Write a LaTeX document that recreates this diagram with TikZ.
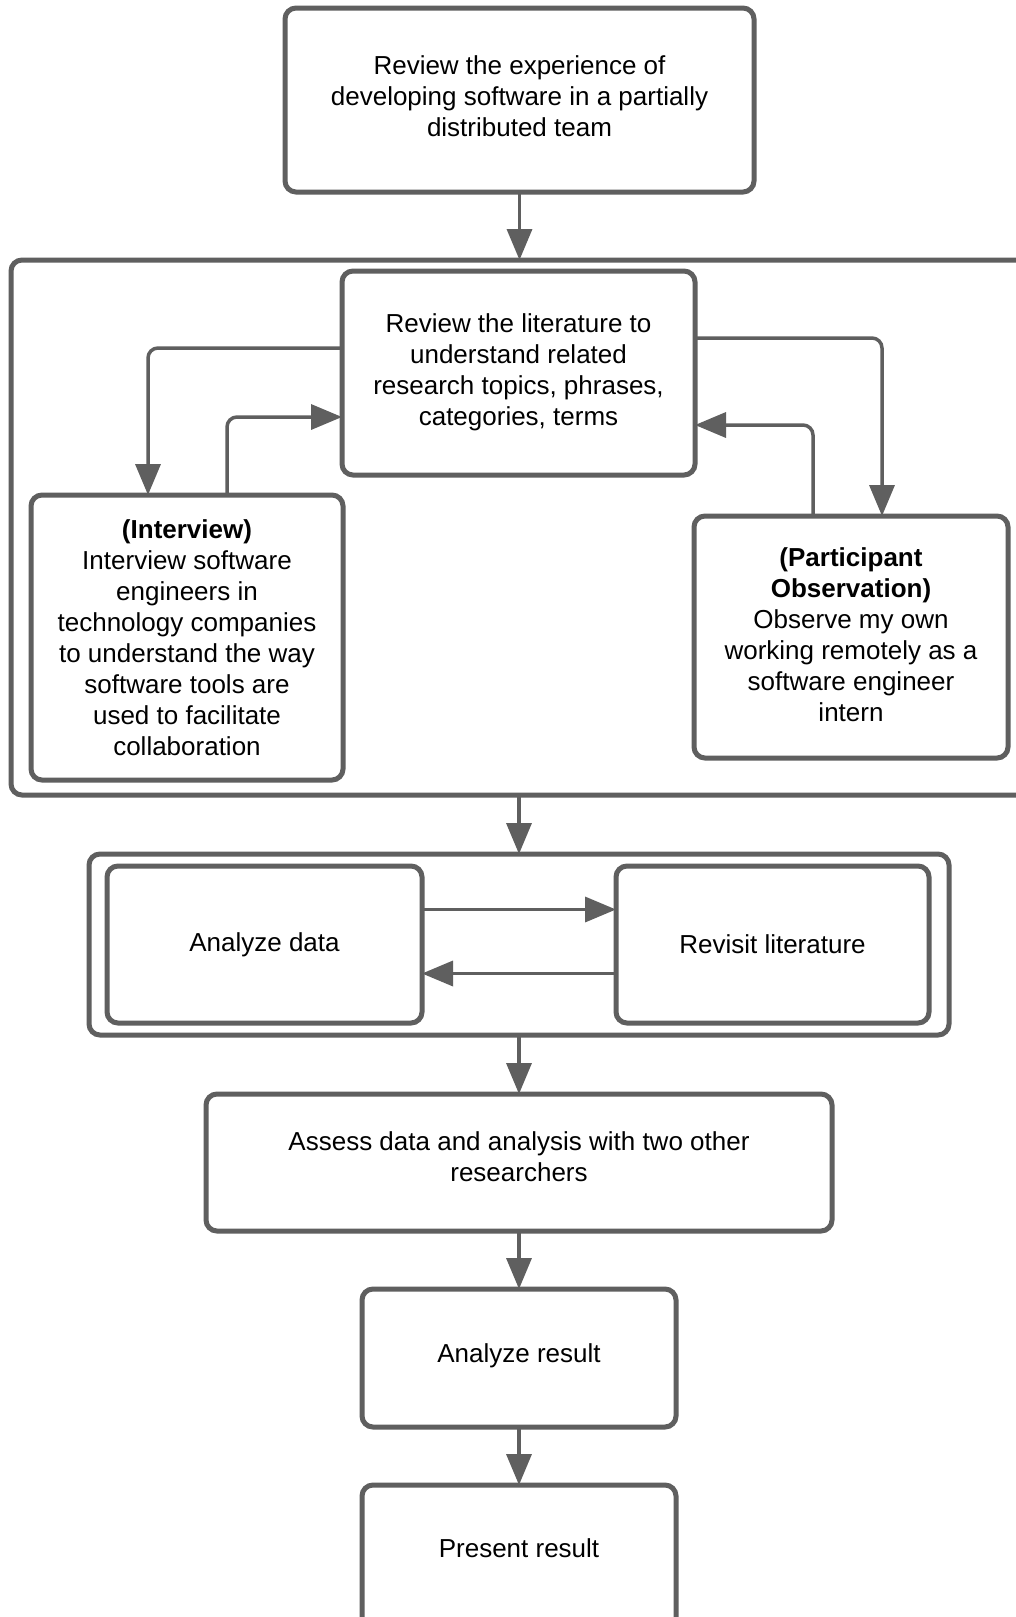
\documentclass[tikz,border=0pt]{standalone}
\usepackage{fontspec}
\setmainfont{Liberation Sans}
\usetikzlibrary{arrows.meta}
\definecolor{lc}{HTML}{5F5F5F}
\tikzset{
  txt/.style={font=\fontsize{26}{31}\selectfont, text=black, align=center},
  box/.style={txt, draw=lc, line width=5pt, rounded corners=11pt, inner sep=0pt, outer sep=0pt},
  arr/.style={draw=lc, line width=3.5pt, rounded corners=10pt, -{Triangle[length=31pt,width=25pt]}},
}
\begin{document}
\begin{tikzpicture}[x=1pt,y=-1pt]
\clip (0,0) rectangle (1016,1617);
\fill[white] (0,0) rectangle (1016,1617);
% boxes
\node[box, minimum width=469, minimum height=184] (top) at (519.5,100) {};
\node[txt] (topt) at (519.5,96) {Review the experience of\\developing software in a partially\\distributed team};
\node[box, minimum width=1030, minimum height=535] (big) at (526,527.5) {};
\node[box, minimum width=353, minimum height=204] (lit) at (518.5,373) {};
\node[txt] (litt) at (518.5,372) {Review the literature to\\understand related\\research topics, phrases,\\categories, terms};
\node[box, minimum width=312, minimum height=285] (inter) at (187,637.5) {\textbf{(Interview)}\\Interview software\\engineers in\\technology companies\\to understand the way\\software tools are\\used to facilitate\\collaboration};
\node[box, minimum width=314, minimum height=242] (part) at (851,637) {};
\node[txt] (partt) at (851,635) {\textbf{(Participant}\\\textbf{Observation)}\\Observe my own\\working remotely as a\\software engineer\\intern};
\node[box, minimum width=860, minimum height=181] (outer) at (519,944.5) {};
\node[box, minimum width=315, minimum height=157] (ad) at (264.5,944.5) {Analyze data};
\node[box, minimum width=313, minimum height=157] (rl) at (772.5,944.5) {Revisit literature};
\node[box, minimum width=626, minimum height=137] (assess) at (519,1162.5) {};
\node[txt] (assesst) at (519,1157) {Assess data and analysis with two other\\researchers};
\node[box, minimum width=314, minimum height=138] (ar) at (519,1358) {};
\node[txt] (art) at (519,1356) {Analyze result};
\node[box, minimum width=314, minimum height=180] (pr) at (519,1575) {};
\node[txt] (prt) at (519,1548) {Present result};
% connectors
\draw[arr] (top.south) -- (top.south |- big.north);
\draw[arr] ([yshift=25pt]lit.west) -| ([xshift=-39pt]inter.north);
\draw[arr] ([xshift=40pt]inter.north) |- ([yshift=-44pt]lit.west);
\draw[arr] ([yshift=35pt]lit.east) -| ([xshift=31pt]part.north);
\draw[arr] ([xshift=-38pt]part.north) |- ([yshift=-52pt]lit.east);
\draw[arr] (outer.north |- big.south) -- (outer.north);
\draw[arr] ([yshift=35pt]ad.east) -- ([yshift=35pt]rl.west);
\draw[arr] ([yshift=-29pt]rl.west) -- ([yshift=-29pt]ad.east);
\draw[arr] (outer.south) -- (assess.north);
\draw[arr] (assess.south) -- (ar.north);
\draw[arr] (ar.south) -- (pr.north);
\end{tikzpicture}
\end{document}
